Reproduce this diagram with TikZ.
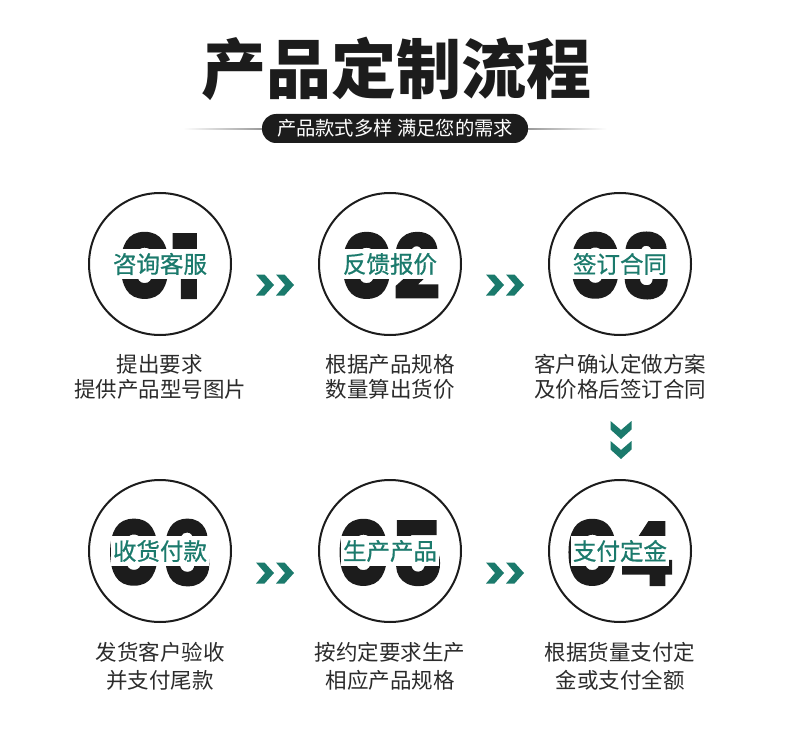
\documentclass[tikz,border=0pt]{standalone}
\usepackage{fontspec}
\newfontfamily\cjk{Noto Sans CJK SC}
\newfontfamily\cjkmed{Noto Sans CJK SC}[FakeBold=0.7]
\newfontfamily\numfont{Poppins}[BoldFeatures={FakeBold=2}]
\usetikzlibrary{calc}
\definecolor{tealc}{HTML}{1B7A6C}
\definecolor{inkc}{HTML}{1C1C1C}
\definecolor{descc}{HTML}{2B2B2B}
\tikzset{
  stepcircle/.style={circle,draw=inkc,line width=2pt,minimum size=142pt,inner sep=0pt},
  bignum/.style={text=inkc,font=\numfont\bfseries\fontsize{88}{88}\selectfont,inner sep=0pt,xscale=0.93},
  steplabel/.style={fill=white,text=tealc,font=\cjkmed\fontsize{23.5}{23.5}\selectfont,inner xsep=2pt,inner ysep=4pt},
  descA/.style={text=descc,font=\cjk\fontsize{21.5}{25}\selectfont,align=center},
  descB/.style={text=descc,font=\cjk\fontsize{21.5}{28}\selectfont,align=center},
  chev/.pic={\fill[tealc] (-19,-10.5) -- (-10,0) -- (-19,10.5) -- (-10.5,10.5) -- (-1,0) -- (-10.5,-10.5) -- cycle;
             \fill[tealc] (1,-10.5) -- (10,0) -- (1,10.5) -- (9.5,10.5) -- (19,0) -- (9.5,-10.5) -- cycle;},
}
\begin{document}
\begin{tikzpicture}[x=1pt,y=-1pt]
\useasboundingbox (0,0) rectangle (790,741);
% title
\node[text=inkc,font=\cjk\bfseries\fontsize{65}{65}\selectfont] (title) at (396,69) {产品定制流程};
% subtitle bar
\shade[left color=white,right color=gray!80] (183,128.3) rectangle (262,129.8);
\shade[left color=gray!80,right color=white] (528,128.3) rectangle (607,129.8);
\node[fill=inkc,rounded corners=14pt,minimum width=266pt,minimum height=29pt,text=white,font=\cjk\fontsize{19.3}{19.3}\selectfont] (sub) at (395,128.5) {产品款式多样\ 满足您的需求};
% circles
\foreach \n/\x/\y/\num/\lab in {c1/160/264/01/咨询客服, c2/390/264/02/反馈报价, c3/620/264/03/签订合同, c6/160/551/06/收货付款, c5/390/551/05/生产产品, c4/620/551/04/支付定金}{
  \node[stepcircle] (\n) at (\x,\y) {};
  \node[bignum] (\n num) at (\x,\y+1.5) {\num};
  \node[steplabel] (\n lab) at (\x,\y) {\lab};
}
% descriptions
\node[descA] (d1) at (160,376.5) {提出要求\\提供产品型号图片};
\node[descA] (d2) at (390,376.5) {根据产品规格\\数量算出货价};
\node[descA] (d3) at (620,376.5) {客户确认定做方案\\及价格后签订合同};
\node[descB] (d6) at (160,666) {发货客户验收\\并支付尾款};
\node[descB] (d5) at (390,666) {按约定要求生产\\相应产品规格};
\node[descB] (d4) at (620,666) {根据货量支付定\\金或支付全额};
% arrows
\pic at ($(c1)!0.5!(c2)+(0,21)$) {chev};
\pic at ($(c2)!0.5!(c3)+(0,21)$) {chev};
\pic at ($(c6)!0.5!(c5)+(0,22)$) {chev};
\pic at ($(c5)!0.5!(c4)+(0,22)$) {chev};
\pic[rotate=-90] at (621,440) {chev};
\end{tikzpicture}
\end{document}
